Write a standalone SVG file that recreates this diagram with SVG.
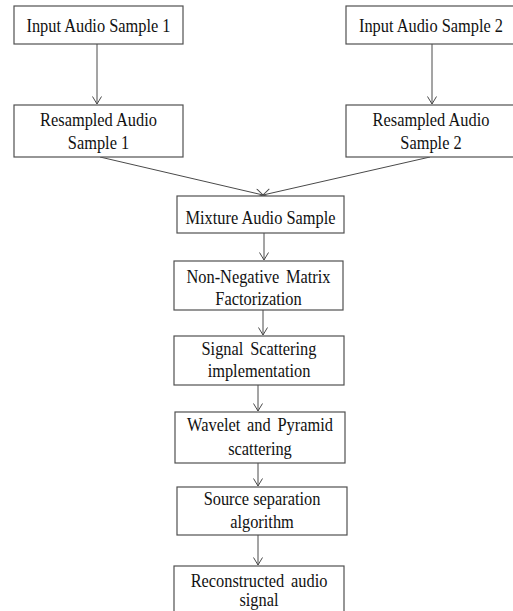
<svg xmlns="http://www.w3.org/2000/svg" width="513" height="611" viewBox="0 0 513 611">
<defs>
<marker id="arr" markerUnits="userSpaceOnUse" markerWidth="12" markerHeight="12" refX="8" refY="5" orient="auto">
<path d="M0.5,0.5 L8,5 L0.5,9.5" fill="none" stroke="#4a4a4a" stroke-width="1"/>
</marker>
<style>
.box{fill:#fff;stroke:#505050;stroke-width:1.2}
.t{font-family:"Liberation Serif","Times New Roman",serif;font-size:18px;fill:#111;text-anchor:middle}
.c{stroke:#4a4a4a;stroke-width:1;fill:none;marker-end:url(#arr)}
</style>
</defs>
<rect width="513" height="611" fill="#fff"/>
<g id="connectors">
<line class="c" x1="97" y1="44" x2="97" y2="104"/>
<line class="c" x1="432" y1="44" x2="432" y2="104"/>
<line class="c" x1="100" y1="157" x2="263" y2="195"/>
<line class="c" x1="430" y1="157" x2="263" y2="195"/>
<line class="c" x1="264" y1="233" x2="264" y2="260"/>
<line class="c" x1="263" y1="310" x2="263" y2="335"/>
<line class="c" x1="258" y1="385" x2="258" y2="411"/>
<line class="c" x1="258" y1="463" x2="258" y2="486"/>
<line class="c" x1="258" y1="535" x2="258" y2="565"/>
</g>
<g id="input1">
<rect class="box" x="14" y="6" width="169" height="38"/>
<text class="t" transform="translate(98.5,32) scale(0.91,1)">Input Audio Sample 1</text>
</g>
<g id="input2">
<rect class="box" x="346" y="6" width="170" height="38"/>
<text class="t" transform="translate(431,32) scale(0.91,1)">Input Audio Sample 2</text>
</g>
<g id="resampled1">
<rect class="box" x="14" y="105" width="169" height="52"/>
<text class="t" transform="translate(98.5,126) scale(0.91,1)">Resampled Audio</text>
<text class="t" transform="translate(98.5,149) scale(0.91,1)">Sample 1</text>
</g>
<g id="resampled2">
<rect class="box" x="346" y="105" width="170" height="52"/>
<text class="t" transform="translate(431,126) scale(0.91,1)">Resampled Audio</text>
<text class="t" transform="translate(431,149) scale(0.91,1)">Sample 2</text>
</g>
<g id="mixture">
<rect class="box" x="177" y="196" width="167" height="37"/>
<text class="t" transform="translate(260.5,224) scale(0.91,1)">Mixture Audio Sample</text>
</g>
<g id="nmf">
<rect class="box" x="174" y="261" width="169" height="49"/>
<text class="t" transform="translate(258.5,283) scale(0.91,1)" word-spacing="3">Non-Negative Matrix</text>
<text class="t" transform="translate(258.5,305) scale(0.91,1)">Factorization</text>
</g>
<g id="scattering">
<rect class="box" x="174" y="336" width="170" height="49"/>
<text class="t" transform="translate(259,355) scale(0.91,1)" word-spacing="3">Signal Scattering</text>
<text class="t" transform="translate(259,377) scale(0.91,1)">implementation</text>
</g>
<g id="wavelet">
<rect class="box" x="175" y="412" width="170" height="51"/>
<text class="t" transform="translate(260,431) scale(0.91,1)" word-spacing="3">Wavelet and Pyramid</text>
<text class="t" transform="translate(260,455) scale(0.91,1)">scattering</text>
</g>
<g id="separation">
<rect class="box" x="177" y="487" width="170" height="48"/>
<text class="t" transform="translate(262,505) scale(0.91,1)">Source separation</text>
<text class="t" transform="translate(262,528) scale(0.91,1)">algorithm</text>
</g>
<g id="reconstructed">
<rect class="box" x="174" y="566" width="170" height="60"/>
<text class="t" transform="translate(259,587) scale(0.91,1)" word-spacing="3">Reconstructed audio</text>
<text class="t" transform="translate(259,606) scale(0.91,1)">signal</text>
</g>
</svg>
